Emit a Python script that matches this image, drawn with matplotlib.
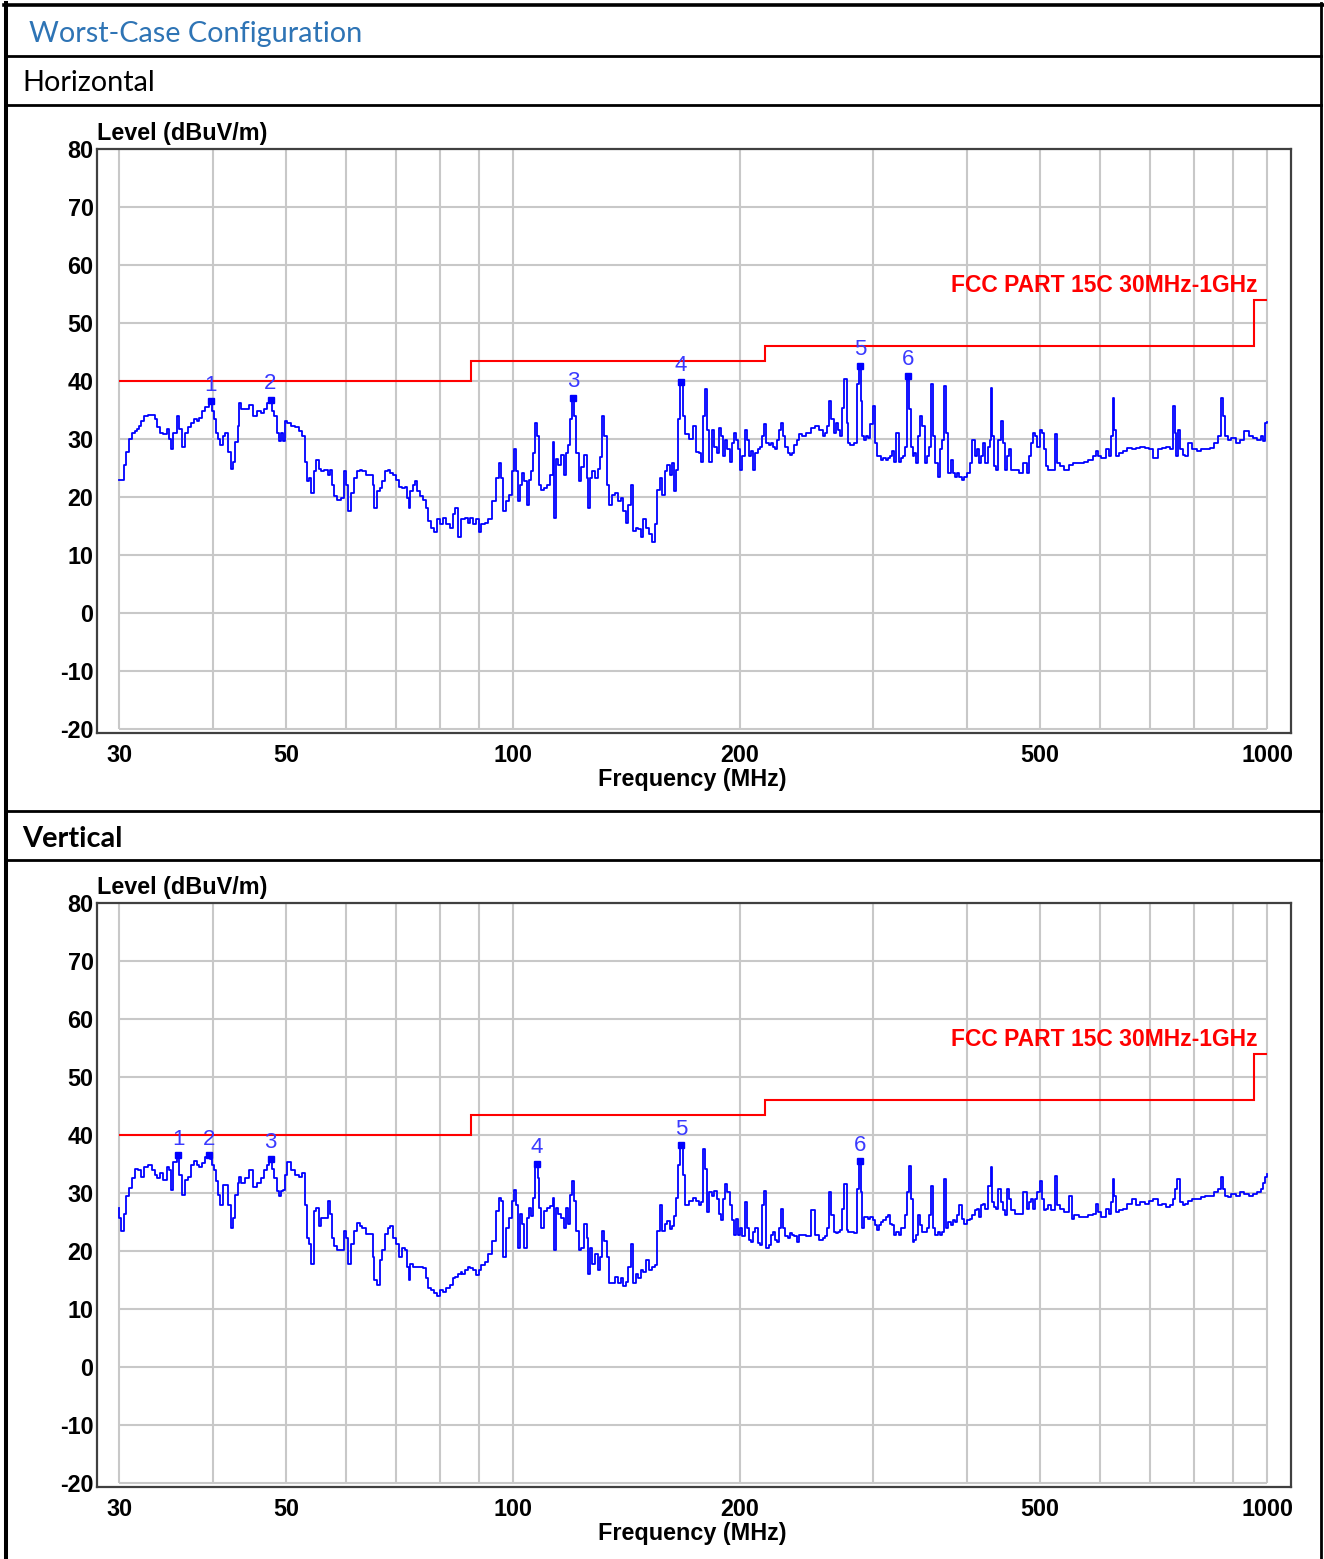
import numpy as np
import matplotlib.pyplot as plt
from matplotlib.ticker import NullLocator

plt.rcParams['font.family'] = ['Liberation Sans', 'DejaVu Sans']

# Horizontal polarisation trace (MHz, dBuV/m)
hor_freq = [
    30.0, 30.36, 30.54, 30.79, 31.08, 31.37, 31.63, 31.82, 32.0, 32.19,
    32.57, 32.95, 33.34, 33.65, 33.81, 34.13, 34.53, 34.85, 35.02, 35.26,
    35.55, 35.97, 36.18, 36.6, 36.82, 37.25, 37.47, 37.91, 38.27, 38.45,
    38.81, 39.26, 39.72, 39.96, 40.19, 40.43, 40.66, 41.05, 41.39, 41.63,
    42.02, 42.37, 42.61, 42.96, 43.21, 43.47, 43.72, 44.39, 44.91, 45.44,
    45.97, 46.51, 47.05, 47.33, 47.66, 48.0, 48.45, 48.73, 49.02, 49.3,
    49.59, 49.88, 50.46, 51.06, 51.66, 52.27, 52.76, 53.19, 53.51, 53.82,
    54.14, 54.58, 54.97, 55.42, 55.75, 56.4, 57.07, 57.4, 57.74, 58.08,
    58.76, 59.45, 59.8, 60.15, 60.65, 61.21, 61.79, 62.3, 62.81, 63.4,
    64.15, 64.9, 65.28, 65.66, 66.28, 66.82, 67.21, 68.0, 68.4, 68.96,
    69.61, 70.26, 70.84, 71.67, 72.1, 72.52, 72.77, 73.37, 73.8, 74.32,
    74.84, 75.55, 76.25, 76.88, 77.33, 78.24, 78.98, 79.62, 80.28, 81.03,
    81.98, 82.76, 83.44, 84.13, 84.91, 85.41, 85.91, 86.72, 87.43, 87.94,
    88.97, 89.81, 90.34, 91.08, 92.16, 93.24, 94.33, 95.44, 96.0, 96.57,
    97.47, 98.27, 99.42, 100.0, 100.6, 101.2, 101.8, 102.4, 103.0, 103.8,
    104.6, 105.4, 106.0, 106.6, 107.3, 107.9, 108.5, 109.5, 110.4, 111.7,
    112.4, 113.2, 113.7, 114.4, 115.0, 116.4, 117.0, 117.7, 118.5, 119.4,
    120.2, 120.8, 121.6, 122.6, 123.6, 124.8, 125.5, 126.2, 126.9, 127.7,
    128.9, 129.9, 130.7, 131.6, 132.5, 133.8, 134.6, 135.7, 136.9, 138.2,
    139.4, 140.5, 141.5, 142.6, 143.8, 144.8, 146.0, 147.2, 148.2, 149.4,
    150.7, 152.1, 153.5, 154.8, 156.0, 157.1, 158.4, 159.3, 160.3, 162.2,
    163.1, 164.1, 165.0, 166.0, 167.0, 168.5, 170.0, 172.0, 174.0, 176.0,
    177.1, 178.2, 179.4, 180.1, 181.3, 183.0, 184.2, 185.5, 186.7, 187.9,
    189.2, 190.4, 191.7, 193.0, 194.3, 195.5, 196.8, 198.2, 199.5, 200.8,
    202.1, 203.5, 204.8, 206.2, 207.6, 208.9, 210.3, 211.7, 213.1, 214.5,
    216.0, 217.4, 218.9, 220.3, 221.8, 223.2, 224.7, 226.2, 227.7, 228.6,
    230.8, 232.3, 233.8, 235.4, 236.9, 238.5, 240.1, 243.3, 246.6, 249.8,
    253.2, 256.5, 258.2, 260.0, 261.7, 263.4, 265.2, 267.0, 268.7, 270.5,
    272.3, 274.1, 275.9, 277.8, 278.9, 281.5, 285.2, 287.1, 288.3, 289.8,
    291.3, 292.9, 294.8, 296.8, 298.8, 300.8, 302.8, 304.8, 306.8, 308.8,
    310.9, 312.9, 315.0, 317.1, 319.2, 321.3, 323.5, 325.6, 327.8, 330.0,
    332.2, 334.4, 335.7, 337.9, 339.7, 341.5, 343.3, 345.7, 347.9, 350.2,
    352.6, 354.9, 357.3, 359.7, 362.0, 364.5, 366.9, 369.3, 371.8, 374.2,
    376.7, 379.2, 381.7, 384.3, 386.9, 389.4, 392.0, 394.6, 397.2, 402.5,
    405.2, 407.9, 410.6, 413.3, 416.1, 418.8, 421.6, 424.4, 427.3, 430.1,
    431.2, 432.9, 435.8, 438.7, 441.6, 444.6, 447.6, 450.4, 453.4, 456.5,
    459.5, 465.6, 471.9, 478.1, 481.3, 484.5, 487.7, 491.0, 494.2, 497.6,
    500.9, 504.2, 507.5, 510.9, 514.3, 521.1, 524.6, 528.1, 535.1, 542.3,
    549.5, 556.9, 568.1, 575.6, 583.3, 591.1, 595.0, 598.9, 606.9, 615.0,
    619.1, 623.2, 625.7, 629.0, 631.5, 640.0, 648.5, 657.2, 665.9, 674.8,
    683.8, 692.9, 702.1, 711.5, 721.0, 730.5, 740.3, 748.2, 752.1, 756.1,
    760.1, 765.2, 770.2, 775.4, 780.5, 790.9, 801.5, 812.1, 823.0, 833.9,
    845.1, 856.3, 865.5, 872.4, 877.0, 881.7, 891.1, 902.9, 915.0, 927.2,
    939.5, 952.1, 964.7, 977.6, 984.1, 990.6, 997.2, 1000.0,
]
hor_level = [
    22.9, 22.9, 25.5, 27.7, 30.0, 31.1, 31.4, 31.7, 32.3, 33.1,
    34.0, 34.2, 34.1, 33.4, 32.0, 31.1, 30.8, 31.7, 30.0, 28.3,
    31.1, 34.0, 31.7, 28.6, 31.1, 32.0, 32.8, 33.4, 33.1, 33.7,
    34.8, 35.6, 36.5, 34.8, 33.4, 31.1, 30.0, 28.9, 30.6, 31.1,
    27.7, 24.9, 26.0, 29.4, 32.3, 36.2, 35.1, 35.1, 35.9, 34.0,
    34.8, 34.5, 35.1, 36.2, 36.8, 34.8, 34.0, 31.1, 29.7, 31.1,
    29.7, 33.1, 32.8, 32.3, 32.0, 31.4, 30.6, 26.0, 22.7, 23.2,
    20.7, 24.4, 26.3, 24.9, 24.4, 24.6, 23.8, 24.6, 22.1, 20.1,
    19.5, 19.8, 24.4, 22.1, 17.6, 20.7, 23.2, 24.4, 24.6, 24.4,
    23.8, 23.8, 22.1, 18.1, 21.0, 21.5, 22.7, 24.4, 24.6, 24.1,
    23.8, 22.9, 21.8, 21.5, 21.8, 19.8, 18.1, 21.0, 22.1, 22.7,
    21.0, 20.1, 19.5, 18.1, 15.9, 14.7, 13.9, 16.2, 15.3, 16.4,
    15.3, 14.7, 17.0, 18.1, 13.1, 16.2, 16.2, 16.4, 15.6, 16.4,
    15.3, 16.2, 13.9, 15.3, 15.6, 16.2, 19.3, 23.2, 25.8, 23.2,
    17.6, 19.3, 20.4, 24.4, 28.3, 24.4, 19.3, 22.1, 24.1, 22.7,
    18.7, 22.9, 24.4, 27.5, 32.8, 30.6, 22.1, 21.2, 21.5, 22.1,
    23.8, 29.4, 16.4, 26.6, 25.5, 27.2, 23.8, 27.5, 28.9, 33.4,
    37.1, 34.0, 27.5, 22.7, 25.2, 27.2, 23.2, 18.1, 23.2, 24.4,
    23.2, 24.9, 26.9, 34.0, 30.6, 22.1, 18.7, 20.4, 20.7, 19.3,
    19.8, 17.6, 15.6, 18.7, 22.1, 14.2, 14.7, 14.5, 13.1, 16.2,
    14.7, 13.6, 12.2, 15.3, 21.2, 23.2, 20.4, 24.4, 25.5, 23.8,
    25.8, 21.0, 24.6, 33.4, 39.9, 34.0, 30.8, 30.0, 32.3, 27.7,
    27.6, 26.1, 33.9, 38.6, 31.6, 26.1, 31.6, 28.7, 27.6, 31.9,
    30.5, 27.0, 29.9, 28.2, 26.1, 29.3, 31.0, 29.9, 28.2, 24.7,
    27.0, 31.6, 29.9, 27.0, 27.9, 24.7, 27.6, 28.2, 28.7, 30.5,
    32.5, 29.3, 29.0, 29.3, 28.7, 28.2, 29.9, 31.6, 32.8, 30.5,
    28.7, 27.6, 27.3, 27.6, 29.0, 29.9, 30.8, 30.5, 31.0, 31.9,
    32.2, 31.6, 30.5, 31.0, 32.2, 36.5, 33.4, 31.0, 32.8, 31.6,
    30.5, 35.4, 40.3, 32.8, 29.3, 29.0, 29.3, 39.4, 42.6, 36.5,
    30.5, 29.9, 30.5, 30.2, 32.5, 35.7, 29.3, 27.0, 27.0, 26.4,
    26.7, 26.4, 26.7, 27.0, 27.9, 26.1, 31.0, 26.1, 26.7, 27.0,
    28.7, 40.9, 35.1, 28.7, 27.0, 27.6, 25.8, 30.5, 33.9, 32.2,
    25.8, 27.0, 28.7, 39.4, 30.5, 25.8, 23.5, 28.2, 29.9, 39.1,
    31.0, 24.1, 26.4, 24.1, 23.5, 24.1, 23.5, 22.9, 23.5, 24.1,
    25.8, 29.9, 27.0, 28.2, 25.8, 27.0, 29.3, 25.8, 28.7, 29.9,
    38.8, 30.5, 25.3, 24.7, 29.9, 33.1, 29.3, 24.7, 27.0, 28.2,
    24.7, 24.7, 24.1, 25.8, 24.1, 27.0, 29.3, 31.0, 30.5, 28.7,
    31.6, 31.0, 28.2, 25.3, 24.7, 24.7, 30.8, 25.8, 25.3, 24.7,
    25.5, 25.8, 25.8, 26.1, 26.4, 27.0, 27.9, 27.0, 26.7, 28.2,
    27.0, 30.5, 37.1, 31.6, 27.0, 27.6, 27.9, 28.4, 28.2, 28.4,
    28.7, 28.4, 28.2, 26.7, 28.2, 28.4, 28.7, 28.2, 35.7, 31.0,
    27.0, 31.6, 28.2, 27.3, 27.0, 29.3, 28.2, 27.9, 28.2, 28.2,
    28.4, 29.3, 30.5, 37.1, 33.9, 30.5, 29.9, 30.2, 29.3, 29.9,
    31.3, 30.5, 30.2, 29.9, 30.5, 29.6, 32.8, 33.0,
]

# Vertical polarisation trace (MHz, dBuV/m)
ver_freq = [
    30.0, 30.08, 30.36, 30.54, 30.79, 31.08, 31.37, 31.63, 32.0, 32.19,
    32.57, 32.95, 33.34, 33.65, 33.81, 34.13, 34.53, 34.85, 35.02, 35.26,
    35.55, 35.97, 36.18, 36.6, 36.82, 37.25, 37.47, 37.91, 38.27, 38.45,
    38.81, 39.26, 39.5, 39.72, 39.96, 40.19, 40.43, 40.66, 41.05, 41.39,
    41.63, 42.02, 42.37, 42.61, 42.96, 43.21, 43.47, 43.72, 44.39, 44.91,
    45.44, 45.97, 46.51, 47.05, 47.33, 47.66, 48.0, 48.45, 48.73, 49.02,
    49.3, 49.59, 49.88, 50.46, 51.06, 51.66, 52.27, 52.76, 53.19, 53.51,
    53.82, 54.14, 54.58, 54.97, 55.42, 55.75, 56.4, 57.07, 57.4, 57.74,
    58.08, 58.76, 59.45, 59.8, 60.15, 60.65, 61.21, 61.79, 62.3, 62.81,
    63.4, 64.15, 64.9, 65.28, 65.66, 66.28, 66.82, 67.21, 68.0, 68.4,
    68.96, 69.61, 70.26, 70.84, 71.67, 72.1, 72.52, 72.77, 73.37, 73.8,
    74.32, 74.84, 75.55, 76.25, 76.88, 77.33, 78.24, 78.98, 79.62, 80.28,
    81.03, 81.98, 82.76, 83.44, 84.13, 84.91, 85.41, 85.91, 86.72, 87.43,
    87.94, 88.97, 89.81, 90.34, 91.08, 92.16, 93.24, 94.33, 95.44, 96.0,
    96.57, 97.47, 98.27, 99.42, 100.0, 100.6, 101.2, 101.8, 102.4, 103.0,
    103.8, 104.6, 105.4, 106.0, 106.6, 107.3, 107.6, 107.9, 108.5, 109.5,
    110.4, 111.7, 112.4, 113.2, 113.7, 114.4, 115.0, 116.4, 117.0, 117.7,
    118.5, 119.4, 120.2, 120.8, 121.6, 122.6, 123.6, 124.8, 125.5, 126.2,
    126.9, 127.7, 128.9, 129.9, 130.7, 131.6, 132.5, 133.8, 134.6, 135.7,
    136.9, 138.2, 139.4, 140.5, 141.5, 142.6, 143.8, 144.8, 146.0, 147.2,
    148.2, 149.4, 150.7, 152.1, 153.5, 154.8, 156.0, 157.1, 158.4, 159.3,
    160.3, 162.2, 163.1, 164.1, 165.0, 166.0, 167.0, 168.5, 170.0, 172.0,
    174.0, 176.0, 177.1, 178.2, 179.4, 180.1, 181.3, 183.0, 184.2, 185.5,
    186.7, 187.9, 189.2, 190.4, 191.7, 193.0, 194.3, 195.5, 196.8, 198.2,
    199.5, 200.8, 202.1, 203.5, 204.8, 206.2, 207.6, 208.9, 210.3, 211.7,
    213.1, 214.5, 216.0, 217.4, 218.9, 220.3, 221.8, 223.2, 224.7, 226.2,
    227.7, 228.6, 230.8, 232.3, 233.8, 235.4, 236.9, 238.5, 240.1, 243.3,
    246.6, 249.8, 253.2, 256.5, 258.2, 260.0, 261.7, 263.4, 265.2, 267.0,
    268.7, 270.5, 272.3, 274.1, 275.9, 277.8, 278.9, 281.5, 285.2, 287.1,
    288.3, 289.8, 291.3, 292.9, 294.8, 296.8, 298.8, 300.8, 302.8, 304.8,
    306.8, 308.8, 310.9, 312.9, 315.0, 317.1, 319.2, 321.3, 323.5, 325.6,
    327.8, 330.0, 332.2, 334.4, 335.7, 337.9, 339.7, 341.5, 343.3, 345.7,
    347.9, 350.2, 352.6, 354.9, 357.3, 359.7, 362.0, 364.5, 366.9, 369.3,
    371.8, 374.2, 376.7, 379.2, 381.7, 384.3, 386.9, 389.4, 392.0, 394.6,
    397.2, 402.5, 405.2, 407.9, 410.6, 413.3, 416.1, 418.8, 421.6, 424.4,
    427.3, 430.1, 431.2, 432.9, 435.8, 438.7, 441.6, 444.6, 447.6, 450.4,
    453.4, 456.5, 459.5, 465.6, 471.9, 478.1, 481.3, 484.5, 487.7, 491.0,
    494.2, 497.6, 500.9, 504.2, 507.5, 510.9, 514.3, 521.1, 524.6, 528.1,
    535.1, 542.3, 549.5, 553.1, 556.9, 568.1, 575.6, 583.3, 591.1, 595.0,
    598.9, 606.9, 615.0, 619.1, 623.2, 625.7, 629.0, 631.5, 640.0, 648.5,
    657.2, 665.9, 674.8, 683.8, 692.9, 702.1, 711.5, 721.0, 730.5, 740.3,
    748.2, 752.1, 756.1, 765.2, 770.2, 775.4, 780.5, 790.9, 801.5, 812.1,
    823.0, 833.9, 845.1, 856.3, 865.5, 872.4, 877.0, 881.7, 891.1, 902.9,
    915.0, 927.2, 939.5, 952.1, 964.7, 977.6, 984.1, 990.6, 997.2, 1000.0,
]
ver_level = [
    27.4, 25.7, 23.5, 26.3, 29.4, 30.8, 32.5, 34.1, 33.9, 32.8,
    34.5, 34.8, 33.9, 33.1, 32.5, 33.4, 32.2, 34.5, 33.9, 30.5,
    35.4, 36.5, 33.1, 29.7, 32.2, 32.8, 34.8, 35.6, 34.8, 34.5,
    35.1, 36.2, 36.5, 35.9, 34.8, 33.9, 32.0, 29.7, 28.0, 31.4,
    31.4, 28.0, 24.0, 25.7, 29.7, 31.7, 32.8, 31.7, 32.5, 33.9,
    31.1, 31.7, 32.5, 33.9, 34.8, 35.9, 34.2, 32.5, 30.3, 29.4,
    30.3, 30.5, 33.1, 35.4, 33.9, 33.1, 32.8, 33.4, 28.0, 22.3,
    21.2, 17.8, 26.9, 27.4, 24.3, 25.7, 25.7, 28.6, 26.3, 22.3,
    20.9, 20.1, 20.1, 23.5, 22.3, 17.8, 21.2, 23.5, 24.9, 24.3,
    24.0, 22.9, 22.9, 18.9, 15.0, 14.1, 18.4, 20.1, 22.9, 24.0,
    24.3, 22.3, 21.2, 18.9, 20.6, 20.1, 17.2, 15.0, 17.8, 17.2,
    17.2, 17.2, 17.2, 17.0, 15.3, 13.6, 13.3, 12.7, 12.2, 13.3,
    13.0, 13.6, 14.1, 15.3, 15.6, 16.1, 16.4, 16.1, 16.7, 17.2,
    17.0, 16.7, 15.8, 16.7, 17.5, 18.1, 19.5, 21.8, 26.9, 29.1,
    28.6, 18.9, 24.0, 25.7, 28.6, 30.5, 28.0, 20.6, 26.3, 24.6,
    20.6, 25.7, 27.4, 26.0, 29.1, 34.8, 35.0, 32.5, 27.4, 24.0,
    26.9, 27.4, 27.7, 29.1, 20.1, 27.4, 26.3, 25.7, 24.0, 27.4,
    24.6, 29.7, 32.0, 28.6, 23.5, 20.1, 20.6, 24.6, 22.3, 16.1,
    20.6, 17.8, 19.5, 16.7, 18.9, 23.5, 21.8, 18.9, 14.4, 14.4,
    15.6, 14.4, 15.3, 13.9, 14.7, 17.2, 21.2, 14.4, 16.1, 15.3,
    16.7, 16.4, 18.4, 16.7, 17.2, 17.5, 23.5, 28.0, 23.5, 24.6,
    25.2, 23.8, 24.3, 26.0, 29.1, 34.8, 38.2, 33.1, 28.0, 28.6,
    29.1, 28.6, 27.9, 28.4, 37.5, 34.1, 26.7, 30.1, 29.5, 30.4,
    29.0, 26.4, 25.3, 29.0, 31.5, 30.1, 27.9, 25.3, 22.8, 25.6,
    22.8, 23.9, 22.5, 28.4, 23.9, 21.9, 21.6, 23.3, 23.9, 21.4,
    21.1, 27.9, 30.4, 20.5, 21.1, 22.8, 23.3, 21.9, 21.6, 23.9,
    27.3, 23.9, 22.5, 22.2, 23.1, 22.8, 22.5, 21.6, 22.8, 22.8,
    22.5, 27.0, 22.8, 21.9, 22.2, 22.5, 23.9, 30.1, 26.2, 23.3,
    23.1, 23.3, 23.6, 27.3, 31.5, 23.6, 23.3, 23.3, 23.1, 30.7,
    35.5, 30.1, 23.9, 25.9, 25.9, 25.6, 25.9, 25.3, 24.5, 23.6,
    24.5, 25.0, 25.3, 25.9, 26.2, 24.7, 24.5, 22.8, 23.3, 22.8,
    23.9, 23.9, 26.2, 30.1, 34.6, 29.0, 21.6, 21.9, 22.8, 26.2,
    24.5, 23.3, 23.3, 23.9, 26.2, 31.2, 23.9, 22.8, 23.3, 22.8,
    23.3, 32.4, 23.9, 25.0, 24.5, 25.3, 25.0, 26.2, 27.9, 25.6,
    24.7, 25.3, 25.6, 26.2, 27.0, 27.3, 25.9, 27.9, 28.1, 27.3,
    31.2, 31.2, 34.4, 28.4, 27.6, 27.3, 30.7, 28.4, 27.0, 26.2,
    30.7, 29.0, 27.0, 26.4, 26.4, 30.1, 27.3, 28.4, 29.0, 27.3,
    29.0, 30.1, 32.1, 29.0, 27.0, 27.3, 27.9, 27.0, 32.9, 27.9,
    27.3, 26.7, 29.5, 25.6, 26.2, 25.9, 25.9, 26.2, 26.4, 28.1,
    26.7, 25.9, 27.3, 26.4, 28.4, 32.4, 29.5, 26.7, 27.0, 27.3,
    28.1, 29.0, 27.9, 28.4, 28.1, 28.7, 29.0, 27.9, 28.1, 27.6,
    27.9, 29.0, 30.7, 32.4, 28.4, 27.9, 28.1, 28.7, 29.0, 29.0,
    29.3, 29.5, 29.5, 30.1, 30.7, 32.7, 30.7, 29.5, 29.3, 29.8,
    29.5, 30.1, 29.8, 29.5, 29.8, 30.1, 30.7, 31.8, 32.7, 33.2,
]

# marker peaks
hor_mk_freq = [39.72, 47.66, 120.2, 167.0, 288.3, 334.4]
hor_mk_level = [36.5, 36.8, 37.1, 39.9, 42.6, 40.9]
ver_mk_freq = [35.97, 39.5, 47.66, 107.6, 167.0, 288.3]
ver_mk_level = [36.5, 36.5, 35.9, 35.0, 38.2, 35.5]

# limit line
limit_edges = [30, 88, 216, 960, 1000]
limit_levels = [40, 43.5, 46, 54]
limit_name = 'FCC PART 15C 30MHz-1GHz'

x_ticks = [30, 50, 100, 200, 500, 1000]
x_grid = [30, 40, 50, 60, 70, 80, 90, 100, 200, 300, 400, 500, 600, 700, 800, 900, 1000]
y_ticks = [80, 70, 60, 50, 40, 30, 20, 10, 0, -10, -20]

W, H = 1324, 1559
fig = plt.figure(figsize=(W / 100, H / 100), dpi=100)

# table frame drawn in pixel coordinates
bg = fig.add_axes([0, 0, 1, 1])
bg.set_xlim(0, W)
bg.set_ylim(H, 0)
bg.axis('off')
bg.plot([4, W], [5, 5], color='black', lw=2.6)
bg.plot([6, 6], [3, H], color='black', lw=2.9)
bg.plot([1321, 1321], [3, H], color='black', lw=2.0)
for yy in [56, 105, 811, 860]:
    bg.plot([6, 1321], [yy, yy], color='black', lw=2.0)
cell_font = ['Lato', 'DejaVu Sans']
bg.text(29, 41.5, 'Worst-Case Configuration', color='#2e74b5', fontsize=20.8,
        family=cell_font, va='baseline')
bg.text(22, 90.5, 'Horizontal', color='black', fontsize=20.8,
        family=cell_font, va='baseline')
bg.text(22, 846.5, 'Vertical', color='black', fontsize=20.8, fontweight='bold',
        family=cell_font, va='baseline')


def draw_chart(top_px, freq, level, mk_freq, mk_level):
    ax = fig.add_axes([97 / W, 1 - (top_px + 584) / H, 1194 / W, 584 / H])
    ax.set_xscale('log')
    ax.set_xlim(28.05, 1076)
    ax.set_ylim(-20.69, 80)
    ax.hlines(y_ticks, 30, 1000, color='#c8c8c8', lw=1.5, zorder=1)
    ax.vlines(x_grid, -20, 80, color='#c8c8c8', lw=1.5, zorder=1)
    ax.stairs(limit_levels, limit_edges, baseline=None, color='#ff0000', lw=1.5, zorder=2)
    ax.text(973, 56.4, limit_name, color='#ff0000', fontsize=16.5, fontweight='bold',
            ha='right', va='center')
    ax.plot(freq, level, color='#0000ff', lw=1.3, drawstyle='steps-mid', zorder=3)
    ax.plot(mk_freq, mk_level, 's', ms=4, color='#0000ff', zorder=4)
    for i, (f, l) in enumerate(zip(mk_freq, mk_level)):
        ax.annotate(str(i + 1), (f, l), xytext=(0, 4), textcoords='offset points',
                    ha='center', va='bottom', color='#3a3aff', fontsize=16)
    ax.set_xticks(x_ticks)
    ax.set_xticklabels([str(t) for t in x_ticks])
    ax.xaxis.set_minor_locator(NullLocator())
    ax.set_yticks(y_ticks)
    ax.set_yticklabels([str(t) for t in y_ticks])
    ax.tick_params(axis='both', length=0, labelsize=16.8)
    ax.tick_params(axis='x', pad=8)
    ax.tick_params(axis='y', pad=2.5)
    for lab in ax.get_xticklabels() + ax.get_yticklabels():
        lab.set_fontweight('bold')
    for sp in ax.spines.values():
        sp.set_color('#404040')
        sp.set_linewidth(1.6)
    ax.annotate('Level (dBuV/m)', xy=(0, 1), xycoords='axes fraction', xytext=(0, 6.8),
                textcoords='offset points', ha='left', va='baseline',
                fontsize=16.8, fontweight='bold')
    ax.text(0.4983, -0.0908, 'Frequency (MHz)', transform=ax.transAxes, ha='center',
            va='baseline', fontsize=16.8, fontweight='bold')
    return ax


draw_chart(149, hor_freq, hor_level, hor_mk_freq, hor_mk_level)
draw_chart(903, ver_freq, ver_level, ver_mk_freq, ver_mk_level)

fig.savefig('out.png', dpi=100)
